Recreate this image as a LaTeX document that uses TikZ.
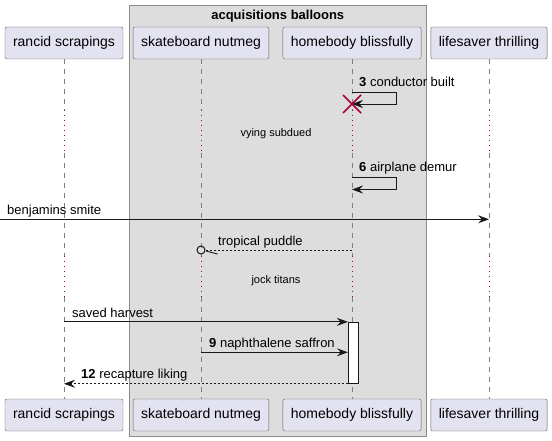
\documentclass[tikz,border=0pt]{standalone}
\usepackage{fontspec}
\setmainfont{Liberation Sans}
\usetikzlibrary{positioning,arrows.meta}
\definecolor{partfill}{HTML}{E2E2F0}
\definecolor{grpfill}{HTML}{DDDDDD}
\definecolor{grpline}{HTML}{8A8A8A}
\definecolor{delayred}{HTML}{A80036}
\definecolor{ink}{HTML}{181818}
\tikzset{
  part/.style={draw=ink!70, fill=partfill, rounded corners=2pt, inner xsep=8pt,
    minimum height=32pt, font=\fontsize{14}{16}\selectfont},
  life/.style={draw=ink!55, line width=0.5pt, dash pattern=on 5pt off 5pt},
  delay/.style={draw=delayred, line width=0.8pt, dash pattern=on 1pt off 4pt},
  msg/.style={draw=ink, line width=0.9pt, -{Stealth[length=11pt,width=8pt,inset=4pt]}},
  reply/.style={msg, dash pattern=on 2pt off 2pt},
  lbl/.style={anchor=base west, inner sep=0pt, font=\fontsize{13}{15}\selectfont},
  dlbl/.style={inner sep=0pt, font=\fontsize{11}{13}\selectfont}
}
\begin{document}
\begin{tikzpicture}[x=1pt, y=-1pt, on grid]
  \useasboundingbox (0,0) rectangle (552,441);
  % box round the two middle ones
  \node(grp) [draw=grpline, fill=grpfill, line width=1pt, inner sep=0pt,
    minimum width=296.5pt, minimum height=430.5pt] at (277.75,221.25) {};
  \node(grpT) [anchor=base, font=\bfseries\fontsize{13}{15}\selectfont] at (277.75,20) {acquisitions balloons};
  % participants
  \node(RS) [part] at (64,43) {rancid scrapings};
  \node(SN) [part, right=137pt of RS] {skateboard nutmeg};
  \node(HB) [part, right=151pt of SN] {homebody blissfully};
  \node(LT) [part, right=137pt of HB] {lifesaver thrilling};
  \node(RSb) [part, below=372pt of RS] {rancid scrapings};
  \node(SNb) [part, below=372pt of SN] {skateboard nutmeg};
  \node(HBb) [part, below=372pt of HB] {homebody blissfully};
  \node(LTb) [part, below=372pt of LT] {lifesaver thrilling};
  % lifelines with the two delays
  \coordinate (d1a) at (0,110);
  \coordinate (d1b) at (0,153);
  \coordinate (d2a) at (0,256);
  \coordinate (d2b) at (0,297);
  \foreach \p/\q in {RS/RSb, SN/SNb, HB/HBb, LT/LTb} {
    \draw[life] (\p.south) -- (\p |- d1a);
    \draw[delay] (\p |- d1a) -- (\p |- d1b);
    \draw[life] (\p |- d1b) -- (\p |- d2a);
    \draw[delay] (\p |- d2a) -- (\p |- d2b);
    \draw[life] (\p |- d2b) -- (\q.north);
  }
  \node(vs) [dlbl] at (276,134) {vying subdued};
  \node(jt) [dlbl] at (276,280.5) {jock titans};
  % messages
  \coordinate (m3) at (0,92);
  \coordinate (m6) at (0,177);
  \coordinate (bs) at (0,219.3);
  \coordinate (tp) at (0,250);
  \coordinate (nf) at (0,352.3);
  \draw[msg] (HB |- m3) -- ++(44,0) -- ++(0,12) -- ++(-44,0) coordinate (x3);
  \draw[delayred, line width=1.5pt] (x3) +(-9,-9) -- +(9,9) +(-9,9) -- +(9,-9);
  \node(l3) [lbl] at (359,86.5) {\textbf{3} conductor built};
  \draw[msg] (HB |- m6) -- ++(44,0) -- ++(0,12.5) -- ++(-44,0);
  \node(l6) [lbl] at (359,171.5) {\textbf{6} airplane demur};
  \draw[msg] (bs) -- (LT |- bs);
  \node(lbs) [lbl] at (7,214.5) {benjamins smite};
  \node(tpC) [circle, draw=ink, line width=1pt, minimum size=8pt, inner sep=0pt] at (SN |- tp) {};
  \draw[ink, line width=0.9pt, dash pattern=on 2pt off 2pt] (HB |- tp) -- (tpC.east);
  \draw[ink, line width=0.9pt] (tpC.east) ++(0.5,1) -- ++(11.5,3);
  \node(ltp) [lbl] at (218,245) {tropical puddle};
  \node(act) [draw=ink, fill=white, line width=0.9pt, inner sep=0pt,
    minimum width=10.4pt, minimum height=61pt] at (353.5,352.8) {};
  \draw[msg] (RS |- act.north west) -- (act.north west);
  \node(lsh) [lbl] at (72,317.3) {saved harvest};
  \draw[msg] (SN |- nf) -- (act.west |- nf);
  \node(lnf) [lbl] at (209,347.3) {\textbf{9} naphthalene saffron};
  \draw[reply] (act.south west) -- (RS |- act.south west);
  \node(lrl) [lbl] at (81,378) {\textbf{12} recapture liking};
\end{tikzpicture}
\end{document}
